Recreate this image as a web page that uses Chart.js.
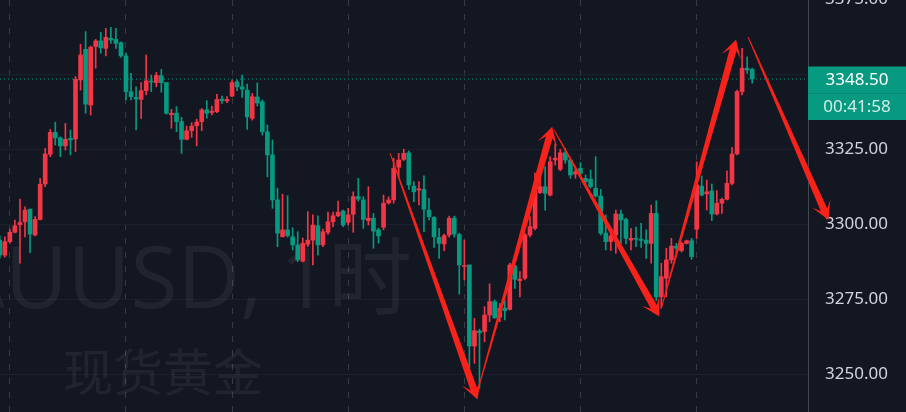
<!DOCTYPE html>
<html>
<head>
<meta charset="utf-8">
<script src="https://cdn.jsdelivr.net/npm/chart.js@4"></script>
<style>
  html, body { margin: 0; padding: 0; background: #131722; overflow: hidden; }
  #wrap { position: absolute; left: 0; top: -14px; width: 906px; height: 426px; }
</style>
</head>
<body>
<div id="wrap"><canvas id="price-chart" width="906" height="426"></canvas></div>
<script>
// XAUUSD 1h candles (index 0 = leftmost candle)
const opens = [
  3294.8, 3289.8, 3294.3, 3297.4, 3299.9, 3300.9, 3305.1, 3296.5, 3301.7, 3313.5,
  3323.4, 3330.7, 3328.9, 3326.2, 3328.7, 3328.5, 3348.2, 3358.4, 3339.8, 3359.3,
  3361.2, 3358.7, 3362.1, 3361.7, 3360.6, 3356.2, 3344.3, 3342.4, 3341.7, 3344.6,
  3347.8, 3347.3, 3349.6, 3347.3, 3336.6, 3337.1, 3334.3, 3328.4, 3331.3, 3332.9,
  3334.3, 3338.2, 3337.3, 3337.6, 3341.8, 3341.2, 3342.8, 3347.6, 3345.9, 3344.8,
  3335.4, 3342.5, 3340.9, 3330.9, 3323.2, 3308.2, 3295.9, 3298.2, 3295.9, 3293.2,
  3287.8, 3293.4, 3294.8, 3299.6, 3293.2, 3297.4, 3300.9, 3302.9, 3304.5, 3300.7,
  3303.4, 3309.3, 3308.2, 3301.3, 3302.1, 3298.2, 3299.1, 3307.2, 3308.2, 3319.1,
  3321.7, 3323.9, 3312.8, 3311.5, 3311.7, 3304.8, 3302.4, 3295.7, 3293.5, 3296.5,
  3302.1, 3296.7, 3286.0, 3286.5, 3259.5, 3264.5, 3264.3, 3269.8, 3274.3, 3269.1,
  3272.1, 3271.7, 3286.2, 3281.3, 3282.1, 3296.5, 3298.7, 3310.6, 3312.6, 3309.8,
  3321.5, 3318.4, 3323.9, 3321.5, 3316.8, 3318.7, 3315.4, 3315.1, 3312.1, 3309.5,
  3297.1, 3294.3, 3296.5, 3303.5, 3301.7, 3294.8, 3295.4, 3295.1, 3294.8, 3293.7,
  3303.7, 3275.9, 3282.1, 3288.2, 3292.8, 3291.3, 3293.7, 3294.6, 3298.4, 3312.8,
  3310.2, 3311.2, 3303.5, 3307.1, 3308.4, 3313.7, 3323.5, 3344.3, 3352.1, 3351.7
];
const highs = [
  3296.2, 3295.9, 3298.5, 3301.5, 3308.5, 3305.9, 3305.1, 3302.6, 3315.4, 3325.4,
  3331.7, 3334.1, 3329.2, 3333.7, 3331.5, 3349.3, 3360.1, 3364.3, 3359.5, 3361.7,
  3364.1, 3365.4, 3365.7, 3365.4, 3360.9, 3357.1, 3350.4, 3345.9, 3347.3, 3356.5,
  3349.8, 3350.7, 3351.7, 3347.3, 3338.4, 3339.3, 3335.7, 3332.8, 3333.9, 3335.1,
  3338.7, 3341.3, 3339.5, 3343.4, 3342.8, 3342.6, 3348.2, 3348.2, 3349.8, 3346.8,
  3343.7, 3347.2, 3341.5, 3333.2, 3328.2, 3312.1, 3310.1, 3309.6, 3298.9, 3297.6,
  3295.5, 3304.3, 3303.2, 3302.9, 3298.5, 3304.1, 3304.1, 3307.8, 3304.8, 3305.4,
  3310.9, 3315.4, 3309.3, 3312.6, 3303.7, 3298.8, 3309.8, 3309.2, 3322.1, 3323.7,
  3325.1, 3324.5, 3314.3, 3314.3, 3316.2, 3308.7, 3302.6, 3298.7, 3296.8, 3302.8,
  3302.8, 3297.1, 3294.8, 3286.5, 3268.7, 3265.1, 3272.6, 3280.2, 3274.8, 3273.7,
  3274.8, 3287.1, 3286.5, 3284.3, 3297.1, 3302.6, 3317.1, 3315.9, 3319.3, 3322.6,
  3327.0, 3325.1, 3325.4, 3321.7, 3318.4, 3320.6, 3316.5, 3318.2, 3322.6, 3311.7,
  3303.2, 3297.1, 3304.8, 3304.8, 3302.1, 3298.7, 3299.1, 3300.4, 3298.2, 3306.5,
  3307.9, 3287.1, 3292.1, 3295.4, 3293.7, 3294.2, 3294.8, 3295.4, 3320.9, 3316.2,
  3314.8, 3313.5, 3311.3, 3308.8, 3317.9, 3325.7, 3344.8, 3358.7, 3355.9, 3352.1
];
const lows = [
  3288.8, 3289.1, 3293.8, 3297.2, 3287.1, 3295.9, 3290.6, 3296.2, 3301.5, 3312.6,
  3322.6, 3326.5, 3322.6, 3324.8, 3323.2, 3324.3, 3344.8, 3337.1, 3336.5, 3352.1,
  3357.1, 3356.2, 3360.4, 3358.7, 3355.7, 3341.5, 3341.5, 3331.5, 3335.4, 3343.2,
  3344.3, 3345.9, 3344.1, 3336.8, 3332.1, 3330.9, 3323.7, 3328.2, 3329.1, 3326.2,
  3331.3, 3335.4, 3336.5, 3337.3, 3340.4, 3340.6, 3342.6, 3344.6, 3342.4, 3331.7,
  3334.8, 3339.5, 3329.8, 3315.9, 3305.4, 3292.6, 3295.9, 3295.8, 3291.5, 3287.6,
  3287.5, 3292.6, 3286.5, 3289.8, 3292.6, 3296.7, 3299.3, 3302.6, 3299.3, 3299.8,
  3297.4, 3307.8, 3298.7, 3299.8, 3292.1, 3293.8, 3298.2, 3306.8, 3307.1, 3315.4,
  3321.3, 3311.7, 3307.6, 3306.5, 3297.6, 3301.5, 3292.4, 3288.7, 3291.3, 3295.8,
  3295.8, 3276.8, 3281.5, 3251.5, 3253.7, 3245.4, 3260.9, 3267.6, 3268.7, 3267.6,
  3268.2, 3271.5, 3278.7, 3275.9, 3281.5, 3295.9, 3298.2, 3310.4, 3304.8, 3309.5,
  3319.8, 3317.9, 3320.4, 3315.4, 3315.4, 3316.2, 3313.7, 3312.1, 3309.1, 3296.5,
  3291.5, 3291.3, 3290.4, 3293.7, 3293.5, 3291.5, 3292.6, 3292.4, 3288.7, 3287.1,
  3274.6, 3272.1, 3275.9, 3287.1, 3290.4, 3290.8, 3293.5, 3288.4, 3295.4, 3309.5,
  3304.8, 3301.3, 3303.2, 3303.7, 3308.2, 3313.2, 3323.2, 3343.2, 3350.4, 3347.1
];
const closes = [
  3289.8, 3294.3, 3297.4, 3299.6, 3300.7, 3304.8, 3296.8, 3301.7, 3313.4, 3323.5,
  3330.7, 3328.9, 3326.2, 3328.4, 3328.2, 3348.4, 3356.5, 3340.1, 3359.1, 3361.2,
  3358.9, 3362.4, 3361.5, 3360.4, 3356.2, 3344.3, 3342.6, 3341.8, 3344.6, 3347.9,
  3347.5, 3349.7, 3347.3, 3337.1, 3337.1, 3334.3, 3328.4, 3331.2, 3332.8, 3334.2,
  3338.2, 3337.1, 3337.8, 3341.7, 3341.3, 3341.7, 3347.3, 3345.9, 3345.1, 3335.9,
  3342.6, 3340.5, 3330.9, 3323.2, 3308.2, 3297.1, 3298.2, 3296.3, 3293.2, 3288.2,
  3293.7, 3294.8, 3299.8, 3293.2, 3297.6, 3300.9, 3302.9, 3304.1, 3299.8, 3303.2,
  3309.3, 3308.5, 3301.7, 3302.1, 3297.8, 3296.2, 3307.1, 3308.2, 3318.7, 3321.5,
  3323.7, 3313.2, 3310.9, 3311.9, 3305.1, 3302.6, 3295.9, 3293.7, 3296.3, 3302.1,
  3296.8, 3286.5, 3286.3, 3259.5, 3264.6, 3263.9, 3269.8, 3274.3, 3268.9, 3272.1,
  3271.3, 3286.5, 3281.7, 3281.8, 3296.5, 3299.3, 3310.9, 3312.6, 3310.4, 3320.9,
  3322.1, 3323.9, 3321.5, 3316.5, 3317.6, 3317.1, 3314.3, 3312.6, 3309.5, 3297.1,
  3294.3, 3296.2, 3303.5, 3301.5, 3295.4, 3295.4, 3295.1, 3294.7, 3293.7, 3303.7,
  3275.9, 3282.6, 3288.2, 3292.8, 3292.1, 3293.7, 3294.6, 3289.3, 3313.2, 3309.8,
  3310.9, 3303.5, 3307.1, 3308.4, 3313.7, 3323.5, 3344.3, 3352.1, 3351.5, 3348.5
];

// price axis ticks and the (daily) vertical grid lines, in candle index
const priceTicks = [3250, 3275, 3300, 3325, 3350, 3375];
const timeGrid = [2, 25, 46, 69, 92, 115, 138];

// hand drawn arrows: [candle index, price] tail -> tip
const arrowTails = [[77.3, 3323.8], [94.8, 3245.5], [109.8, 3331.4], [131.1, 3272.6], [148.2, 3362.4]];
const arrowTips  = [[94.6, 3241.7], [109.4, 3332.6], [130.6, 3269.3], [145.8, 3361.7], [164.1, 3301.5]];

const countdown = '00:41:58';
const watermarkSymbol = 'XAUUSD,';
const watermarkInterval = '1时';
const watermarkName = '现货黄金';

const upColor = '#f23645';
const downColor = '#089981';
const topOffset = 14; // canvas sits 14px above the page so the 3375 label is cut like the original

const lastClose = closes[closes.length - 1];
const candleIdx = opens.map((o, i) => i);
const candleColors = opens.map((o, i) => closes[i] >= o ? upColor : downColor);
const xMin = 0.05, xMax = 160.05;

// Watermark behind the candles
const watermarkPlugin = {
  id: 'watermark',
  beforeDatasetsDraw: function (chart) {
    const ctx = chart.ctx;
    ctx.save();
    ctx.fillStyle = 'rgba(255,255,255,0.06)';
    ctx.textBaseline = 'alphabetic';
    ctx.font = '86px "Open Sans", "Noto Sans CJK SC", sans-serif';
    const lead = ctx.measureText('XA').width;
    ctx.fillText(watermarkSymbol, 5 - lead, 308 + topOffset);
    ctx.font = '84px "Open Sans", "Noto Sans CJK SC", sans-serif';
    ctx.fillText(watermarkInterval, 280, 308 + topOffset);
    ctx.font = '50px "Noto Sans CJK SC", sans-serif';
    ctx.fillText(watermarkName, 63, 391 + topOffset);
    ctx.restore();
  }
};

function drawArrow(ctx, x1, y1, x2, y2) {
  const dx = x2 - x1, dy = y2 - y1;
  const len = Math.hypot(dx, dy);
  const ux = dx / len, uy = dy / len;
  const nx = -uy, ny = ux;
  const headLen = 18, headW = 10, neck = 11, tailW = 0.5, shaftW = 3.5;
  const bx = x2 - ux * neck, by = y2 - uy * neck;
  const hx = x2 - ux * headLen, hy = y2 - uy * headLen;
  ctx.beginPath();
  ctx.moveTo(x1 + nx * tailW, y1 + ny * tailW);
  ctx.lineTo(bx + nx * shaftW, by + ny * shaftW);
  ctx.lineTo(hx + nx * headW, hy + ny * headW);
  ctx.lineTo(x2, y2);
  ctx.lineTo(hx - nx * headW, hy - ny * headW);
  ctx.lineTo(bx - nx * shaftW, by - ny * shaftW);
  ctx.lineTo(x1 - nx * tailW, y1 - ny * tailW);
  ctx.closePath();
  ctx.fill();
}

// Last price label on the axis + the drawn arrows on top of everything
const overlayPlugin = {
  id: 'overlay',
  afterDraw: function (chart) {
    const ctx = chart.ctx;
    const xs = chart.scales.x, ys = chart.scales.y;
    const yp = ys.getPixelForValue(lastClose);
    ctx.save();
    ctx.fillStyle = '#089981';
    ctx.fillRect(ys.left, yp - 12.5, chart.width - ys.left, 53.5);
    ctx.fillStyle = 'rgba(0,0,0,0.12)';
    ctx.fillRect(ys.left, yp + 14, chart.width - ys.left, 1);
    ctx.textAlign = 'center';
    ctx.textBaseline = 'middle';
    ctx.font = '17px "Noto Sans", sans-serif';
    ctx.fillStyle = '#ffffff';
    ctx.fillText(lastClose.toFixed(2), ys.left + 49, yp + 1);
    ctx.fillStyle = 'rgba(255,255,255,0.82)';
    ctx.fillText(countdown, ys.left + 49, yp + 28);

    ctx.fillStyle = '#f7221a';
    for (let i = 0; i < arrowTails.length; i++) {
      drawArrow(ctx,
        xs.getPixelForValue(arrowTails[i][0]), ys.getPixelForValue(arrowTails[i][1]),
        xs.getPixelForValue(arrowTips[i][0]), ys.getPixelForValue(arrowTips[i][1]));
    }
    ctx.restore();
  }
};

var ctx = document.getElementById('price-chart').getContext('2d');
var priceChart = new Chart(ctx, {
  type: 'bar',
  data: {
    datasets: [
      {
        type: 'line',
        data: [{ x: xMin, y: lastClose }, { x: xMax, y: lastClose }],
        borderColor: '#089981',
        borderWidth: 1,
        borderDash: [1, 3],
        pointRadius: 0,
        order: 3
      },
      {
        label: 'wicks',
        data: candleIdx.map(i => ({ x: i, y: [lows[i], highs[i]] })),
        backgroundColor: candleColors,
        barThickness: 1,
        grouped: false,
        minBarLength: 1,
        order: 2
      },
      {
        label: 'bodies',
        data: candleIdx.map(i => ({ x: i, y: [Math.min(opens[i], closes[i]), Math.max(opens[i], closes[i])] })),
        backgroundColor: candleColors,
        barThickness: 4,
        grouped: false,
        minBarLength: 1,
        order: 1
      }
    ]
  },
  options: {
    responsive: false,
    animation: false,
    layout: { padding: 0 },
    plugins: {
      legend: { display: false },
      tooltip: { enabled: false }
    },
    scales: {
      x: {
        type: 'linear',
        min: xMin,
        max: xMax,
        offset: false,
        afterBuildTicks: function (scale) {
          scale.ticks = timeGrid.map(v => ({ value: v }));
        },
        afterFit: function (scale) {
          scale.height = 0;
        },
        ticks: { display: false },
        grid: { color: '#363a45', drawTicks: false, offset: false },
        border: { display: false, dash: [6, 8] }
      },
      y: {
        position: 'right',
        min: 3237.5,
        max: 3379.5,
        afterBuildTicks: function (scale) {
          scale.ticks = priceTicks.map(v => ({ value: v }));
        },
        afterFit: function (scale) {
          scale.width = 98;
          scale.paddingTop = 0;
          scale.paddingBottom = 0;
        },
        ticks: {
          color: '#d1d4dc',
          padding: 17,
          font: { size: 17, family: '"Noto Sans", sans-serif' },
          callback: function (v) { return Number(v).toFixed(2); }
        },
        grid: { color: '#1b1f2a', drawTicks: false },
        border: { color: '#434651' }
      }
    }
  },
  plugins: [watermarkPlugin, overlayPlugin]
});
</script>
</body>
</html>
